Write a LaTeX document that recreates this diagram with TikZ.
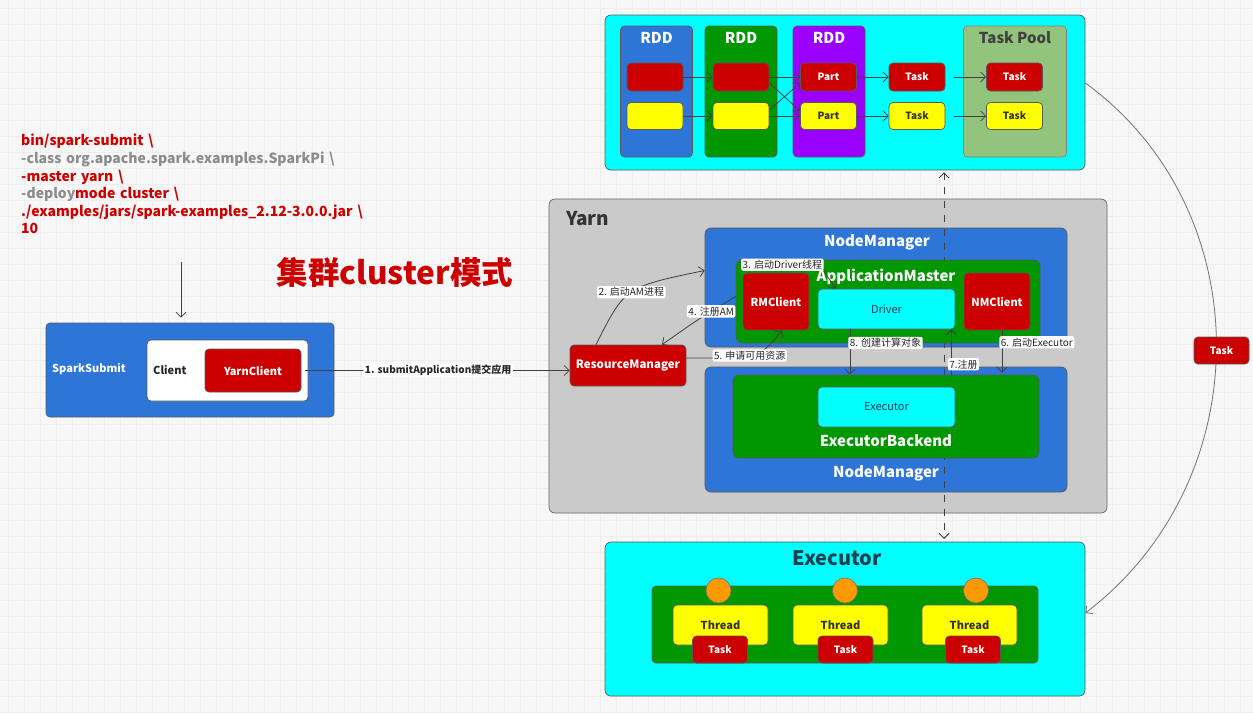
\documentclass[tikz,border=0pt]{standalone}
\usepackage{fontspec}
\setmainfont{Noto Sans CJK SC}
\usetikzlibrary{arrows.meta,calc}
\definecolor{cred}{HTML}{CC0000}
\definecolor{cblue}{HTML}{2E75D8}
\definecolor{cgreen}{HTML}{009700}
\definecolor{cpurple}{HTML}{9900FF}
\definecolor{cyel}{HTML}{FFFF00}
\definecolor{ccyan}{HTML}{00FFFF}
\definecolor{cpool}{HTML}{93C47D}
\definecolor{cgray}{HTML}{CACACA}
\definecolor{corange}{HTML}{FF9900}
\definecolor{cdark}{HTML}{1C4050}
\definecolor{cmdgray}{HTML}{8C8C8C}
\definecolor{gridc}{HTML}{EEEEEE}
\definecolor{cline}{HTML}{404040}
\newcommand\fsz[1]{\fontsize{#1}{#1}\selectfont}
\tikzset{
  box/.style={draw=black!65, line width=0.7pt, rounded corners=4pt, inner sep=0pt},
  panel/.style={box, rounded corners=6pt},
  redbox/.style={box, fill=cred, text=white, font=\fsz{10}\bfseries, minimum width=56pt, minimum height=28pt},
  yelbox/.style={box, fill=cyel, text=black!80, font=\fsz{10}\bfseries, minimum width=56pt, minimum height=27pt},
  coltitle/.style={font=\fsz{15}\bfseries, text=white, inner sep=0pt},
  wtitle/.style={font=\fsz{15}\bfseries, text=white, inner sep=0pt},
  arr/.style={-{Straight Barb[length=5pt,width=10pt]}, draw=cline, line width=0.8pt},
  elabel/.style={fill=white, rounded corners=2pt, inner sep=1.5pt, font=\fsz{10}, text=black!85},
  gridline/.style={draw=gridc, line width=0.4pt}
}
\begin{document}
\begin{tikzpicture}[x=1pt,y=-1pt]
\useasboundingbox (0,0) rectangle (1253,713);
\fill[white!97!black] (0,0) rectangle (1253,713);
\foreach \gx in {8,24,...,1253} \draw[gridline] (\gx,0) -- (\gx,713);
\foreach \gy in {8,24,...,713} \draw[gridline] (0,\gy) -- (1253,\gy);

% ---------- command text ----------
\node[anchor=north west, align=left, inner sep=0pt, font=\fontsize{14}{17.6}\selectfont\bfseries,
      text width=360pt] (cmd) at (21,134)
 {{\color{cred}bin/spark-submit \textbackslash}\\
  {\color{cmdgray}-class org.apache.spark.examples.SparkPi \textbackslash}\\
  {\color{cred}-master yarn \textbackslash}\\
  {\color{cmdgray}-deploy}{\color{cred}mode cluster \textbackslash}\\
  {\color{cred}./examples/jars/spark-examples\_2.12-3.0.0.jar \textbackslash}\\
  {\color{cred}10}\par};
\node[font=\fsz{31.5}\bfseries, text=cred, inner sep=0pt] (title) at (395,272) {集群cluster模式};

% ---------- SparkSubmit ----------
\node[box, fill=cblue, minimum width=288pt, minimum height=94pt] (ss) at (190,370) {};
\node[anchor=west, font=\fsz{11}\bfseries, text=white, inner sep=0pt] (sst) at (52,369) {SparkSubmit};
\node[box, fill=white, minimum width=161pt, minimum height=61pt] (client) at (227.5,370.5) {};
\node[anchor=west, font=\fsz{11}\bfseries, text=black!85, inner sep=0pt] (clientt) at (153,370) {Client};
\node[box, fill=cred, text=white, font=\fsz{11}\bfseries, minimum width=96pt, minimum height=43pt] (yc) at (253,370.5) {YarnClient};
\coordinate (cmdbot) at (181,262);
\draw[arr, shorten >=5pt] (cmdbot) -- (ss.north -| cmdbot);

% ---------- top panel ----------
\node[panel, fill=ccyan, minimum width=480pt, minimum height=155pt] (top) at (845,92.5) {};
\node[box, fill=cblue, minimum width=72pt, minimum height=131pt] (rdd1) at (656.5,91.5) {};
\node[box, fill=cgreen, minimum width=72pt, minimum height=131pt] (rdd2) at (741,91.5) {};
\node[box, fill=cpurple, minimum width=72pt, minimum height=131pt] (rdd3) at (829,91.5) {};
\node[box, fill=cpool, draw=black!50, minimum width=103pt, minimum height=131pt] (pool) at (1015,91.5) {};
\node[coltitle] (rdd1t) at (656.5,38) {RDD};
\node[coltitle] (rdd2t) at (741,38) {RDD};
\node[coltitle] (rdd3t) at (829,38) {RDD};
\node[font=\fsz{15}\bfseries, text=black!75, inner sep=0pt] (poolt) at (1015,38) {Task Pool};
\node[redbox] (r1a) at (655,77) {};
\node[yelbox] (r1b) at (655,116) {};
\node[redbox] (r2a) at (741,77) {};
\node[yelbox] (r2b) at (741,116) {};
\node[redbox] (pa) at (828.5,77) {Part};
\node[yelbox] (pb) at (828.5,116) {Part};
\node[redbox] (ta) at (917,77) {Task};
\node[yelbox] (tb) at (917,116) {Task};
\node[redbox] (qa) at (1014.5,77) {Task};
\node[yelbox] (qb) at (1014.5,116) {Task};
\draw[arr] (r1a.east) -- (r2a.west);
\draw[arr] (r1b.east) -- (r2b.west);
\draw[arr] (r2a.east) -- (pa.west);
\draw[arr] ([yshift=-6pt]r2a.east) -- ([yshift=5pt]pb.west);
\draw[arr] ([yshift=6pt]r2b.east) -- ([yshift=-6pt]pa.west);
\draw[arr] (r2b.east) -- (pb.west);
\draw[arr] (pa.east) -- (ta.west);
\draw[arr] (pb.east) -- (tb.west);
\draw[arr, shorten <=9pt] (ta.east) -- (qa.west);
\draw[arr, shorten <=9pt] (tb.east) -- (qb.west);

% ---------- Yarn ----------
\node[panel, fill=cgray, draw=black!60, minimum width=558pt, minimum height=314pt] (yarn) at (828,356) {};
\node[anchor=west, font=\fsz{19}\bfseries, text=black!80, inner sep=0pt] (yarnt) at (566,219) {Yarn};
\node[panel, fill=cblue, minimum width=362pt, minimum height=119pt] (nm1) at (886,287.5) {};
\node[wtitle] (nm1t) at (877,242) {NodeManager};
\node[panel, fill=cblue, minimum width=362pt, minimum height=125pt] (nm2) at (886,429.5) {};
\node[wtitle] (nm2t) at (886,473) {NodeManager};
\draw[{Straight Barb[length=5pt,width=10pt]}-{Straight Barb[length=5pt,width=10pt]}, draw=cline, line width=0.9pt, dash pattern=on 7pt off 7pt]
  ([xshift=99pt, yshift=-2pt]top.south) -- ([xshift=99pt, yshift=2pt]top.south |- 0,541);
\node[panel, fill=cgreen, minimum width=304pt, minimum height=83pt] (am) at (888,301.5) {};
\node[wtitle] (amt) at (886,277) {ApplicationMaster};
\node[box, fill=cred, text=white, font=\fsz{11}\bfseries, minimum width=66pt, minimum height=57pt] (rmc) at (776,301.5) {RMClient};
\node[box, fill=ccyan, text=cdark, font=\fsz{11}, minimum width=137pt, minimum height=40pt] (driver) at (886.5,309) {Driver};
\node[box, fill=cred, text=white, font=\fsz{11}\bfseries, minimum width=66pt, minimum height=57pt] (nmc) at (997,301.5) {NMClient};
\node[panel, fill=cgreen, minimum width=306pt, minimum height=83pt] (eb) at (886,416.5) {};
\node[wtitle] (ebt) at (886,441) {ExecutorBackend};
\node[box, fill=ccyan, text=cdark, font=\fsz{11}, minimum width=137pt, minimum height=40pt] (exe) at (886.5,407) {Executor};
\node[box, fill=cred, text=white, font=\fsz{11.5}\bfseries, minimum width=116pt, minimum height=41pt] (rm) at (628,365.5) {ResourceManager};

% arrows inside yarn
\draw[arr, shorten <=4pt] (yc.east) -- (rm.west |- yc.east)
  node[elabel, pos=0.51, font=\fsz{10}\bfseries] (l1) {1. submitApplication提交应用};
\draw[arr] ([xshift=-32pt]rm.north) .. controls (625,287) .. ([yshift=17pt]nm1.west)
  node[elabel, pos=0.5] (l2) {2. 启动AM进程};
\node[elabel, anchor=south west] (l3) at (741,271) {3. 启动Driver线程};
\draw[arr] (l3.south east) -- ([xshift=18pt]driver.north west);
\draw[arr] ([yshift=5pt]am.west) .. controls (700,318) .. ([xshift=34pt]rm.north)
  node[elabel, pos=0.3] (l4) {4. 注册AM};
\draw[arr] ([yshift=7.5pt]rm.east) .. controls (760,358) .. ([xshift=6pt]rmc.south)
  node[elabel, pos=0.45] (l5) {5. 申请可用资源};
\draw[arr, shorten >=2pt] ([xshift=5pt]nmc.south) -- ([xshift=5pt]nmc.south |- eb.north)
  node[elabel, pos=0.27, anchor=west, xshift=-3pt] (l6) {6. 启动Executor};
\draw[arr] ([xshift=-4pt]driver.south east |- eb.north) -- ([xshift=-4pt]driver.south east)
  node[elabel, pos=0.23, anchor=west, xshift=-4pt] (l7) {7.注册};
\draw[arr] ([xshift=-36.5pt]driver.south) -- ([xshift=-36.5pt]driver.south |- eb.north)
  node[elabel, pos=0.3, anchor=west, xshift=-2pt] (l8) {8. 创建计算对象};

% ---------- Executor panel ----------
\node[panel, fill=ccyan, minimum width=480pt, minimum height=154pt] (execp) at (845,619) {};
\node[font=\fsz{20}\bfseries, text=cdark, inner sep=0pt] (execpt) at (837,558) {Executor};
\node[box, fill=cgreen, minimum width=386pt, minimum height=77pt] (pool2) at (845,624.5) {};
\foreach \i/\tx/\kx/\cx in {1/720.5/720/718.5, 2/840.5/845.5/845, 3/969.5/973/976} {
  \node[box, fill=cyel, text=black!80, font=\fsz{11}\bfseries, minimum width=95pt, minimum height=40pt] (th\i) at (\tx,625) {Thread};
  \node[circle, fill=corange, draw=black!55, line width=0.6pt, minimum size=25pt, inner sep=0pt] (c\i) at (\cx,590.5) {};
  \node[box, fill=cred, text=white, font=\fsz{10}\bfseries, minimum width=55pt, minimum height=27pt] (tk\i) at (\kx,649.5) {Task};
}

% ---------- Task curve ----------
\draw[arr, draw=black!55] ([yshift=9.5pt]top.east) .. controls (1260,210) and (1260,480) .. ([yshift=6pt]execp.east);
\node[box, fill=cred, text=white, font=\fsz{10}\bfseries, minimum width=55pt, minimum height=27pt] (tside) at (1221.5,350.5) {Task};
\end{tikzpicture}
\end{document}
